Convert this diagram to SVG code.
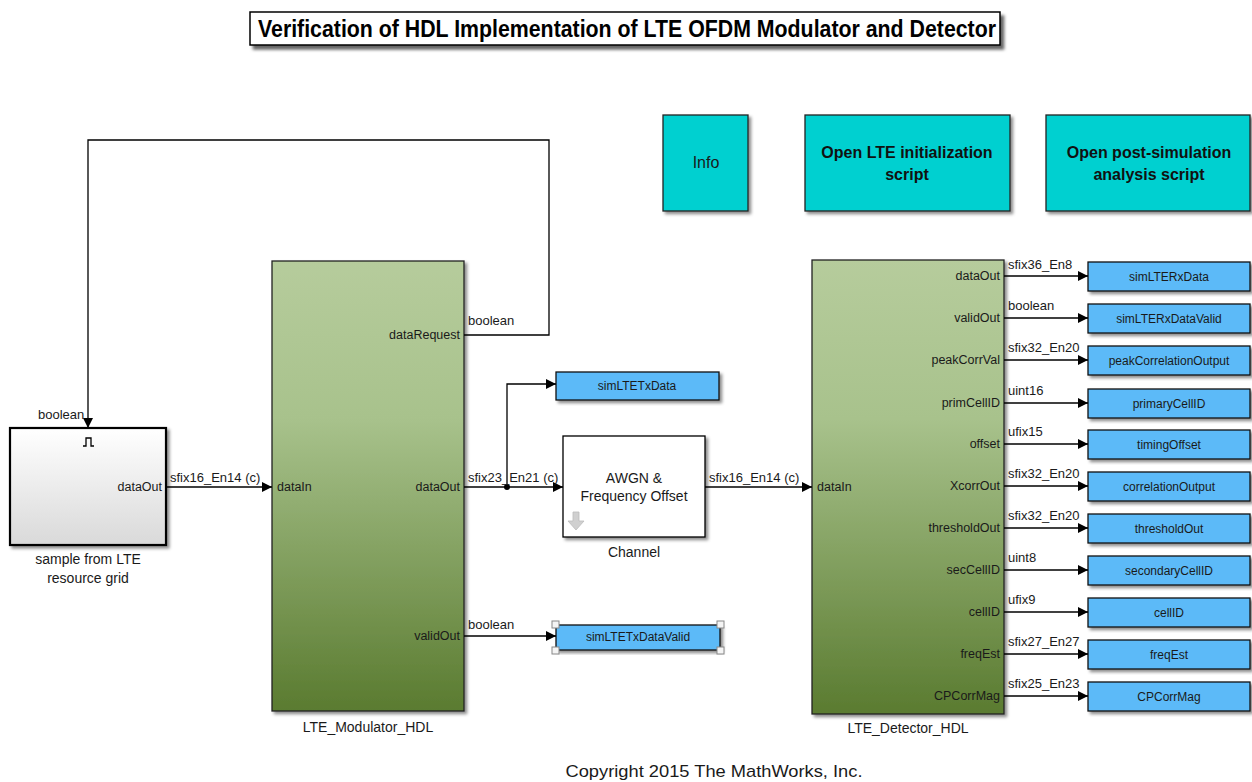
<svg xmlns="http://www.w3.org/2000/svg" width="1252" height="782" viewBox="0 0 1252 782">
<style>
text{font-family:"Liberation Sans",Arial,sans-serif;fill:#1a1a1a}
.port{font-size:12.5px}
.type{font-size:13px}
.lbl{font-size:14px;text-anchor:middle}
.out{font-size:12px;text-anchor:middle}
.cy{font-size:16px;text-anchor:middle;font-weight:bold;fill:#111}
.ln{fill:none;stroke:#000;stroke-width:1.3}
.blue{fill:#5bbaf8;stroke:#111;stroke-width:1.3;filter:url(#sh)}
.cyan{fill:#00d0d0;stroke:#222;stroke-width:1.3;filter:url(#sh)}
.h{fill:#f4f4f4;stroke:#888;stroke-width:1}
</style>
<defs>
<filter id="sh" x="-10%" y="-10%" width="130%" height="130%">
<feDropShadow dx="2.5" dy="2.5" stdDeviation="1.5" flood-color="#000" flood-opacity="0.45"/>
</filter>
<filter id="sh2" x="-10%" y="-20%" width="130%" height="160%">
<feDropShadow dx="3.5" dy="4" stdDeviation="1.8" flood-color="#000" flood-opacity="0.6"/>
</filter>
<linearGradient id="g" x1="0" y1="0" x2="0" y2="1">
<stop offset="0" stop-color="#b6cc9c"/>
<stop offset="0.35" stop-color="#a8c28c"/>
<stop offset="1" stop-color="#5a7b30"/>
</linearGradient>
<linearGradient id="w" x1="0" y1="0" x2="0" y2="1">
<stop offset="0" stop-color="#ffffff"/>
<stop offset="1" stop-color="#d9d9d9"/>
</linearGradient>
<marker id="a" viewBox="0 0 10 10" refX="10" refY="5" markerWidth="10" markerHeight="10" markerUnits="userSpaceOnUse" orient="auto">
<path d="M0,0 L10,5 L0,10 z" fill="#000"/>
</marker>
</defs>
<rect width="1252" height="782" fill="#fff"/>

<g id="title">
<rect x="250" y="12" width="750" height="33" fill="#fff" stroke="#000" stroke-width="1.5" filter="url(#sh2)"/>
<text x="627" y="37" font-size="23" font-weight="bold" text-anchor="middle" textLength="738" lengthAdjust="spacingAndGlyphs" style="fill:#000">Verification of HDL Implementation of LTE OFDM Modulator and Detector</text>
</g>

<g id="info">
<rect class="cyan" x="663" y="115" width="85" height="96"/>
<text x="706" y="168" font-size="16" text-anchor="middle">Info</text>
</g>
<g id="initScript">
<rect class="cyan" x="805" y="115" width="205" height="96"/>
<text class="cy" x="907" y="158">Open LTE initialization</text>
<text class="cy" x="907" y="180">script</text>
</g>
<g id="postScript">
<rect class="cyan" x="1046" y="115" width="204" height="96"/>
<text class="cy" x="1149" y="158">Open post-simulation</text>
<text class="cy" x="1149" y="180">analysis script</text>
</g>

<g id="source">
<rect x="10" y="428" width="156" height="117" fill="url(#w)" stroke="#000" stroke-width="2.2" filter="url(#sh)"/>
<path d="M83,446 h3 v-8 h5 v8 h3" fill="none" stroke="#000" stroke-width="1.3"/>
<text class="port" x="162" y="491" text-anchor="end">dataOut</text>
<text class="lbl" x="88" y="564">sample from LTE</text>
<text class="lbl" x="88" y="583">resource grid</text>
</g>

<g id="modulator">
<rect x="272" y="261" width="192" height="450" fill="url(#g)" stroke="#222" stroke-width="1.3" filter="url(#sh)"/>
<text class="port" x="277" y="491">dataIn</text>
<text class="port" x="460" y="339" text-anchor="end">dataRequest</text>
<text class="port" x="460" y="491" text-anchor="end">dataOut</text>
<text class="port" x="460" y="640" text-anchor="end">validOut</text>
<text class="lbl" x="368" y="732">LTE_Modulator_HDL</text>
</g>

<g id="simLTETxData">
<rect class="blue" x="556" y="372" width="163" height="28"/>
<text class="out" x="637" y="390">simLTETxData</text>
</g>

<g id="channel">
<rect x="563" y="436" width="142" height="101" fill="#fff" stroke="#000" stroke-width="1.3" filter="url(#sh)"/>
<text x="634" y="483" font-size="14" text-anchor="middle">AWGN &amp;</text>
<text x="634" y="501" font-size="14" text-anchor="middle">Frequency Offset</text>
<path d="M573,512 h6 v9 h5 l-8,9 l-8,-9 h5 z" fill="#d0d0d0" stroke="#bbb" stroke-width="0.8"/>
<text class="lbl" x="634" y="557">Channel</text>
</g>

<g id="simLTETxDataValid">
<rect class="blue" x="556" y="625" width="164" height="25"/>
<text class="out" x="638" y="641">simLTETxDataValid</text>
<rect class="h" x="552" y="621" width="7" height="7"/>
<rect class="h" x="717" y="621" width="7" height="7"/>
<rect class="h" x="552" y="647" width="7" height="7"/>
<rect class="h" x="717" y="647" width="7" height="7"/>
</g>

<g id="detector">
<rect x="812" y="260" width="192" height="454" fill="url(#g)" stroke="#222" stroke-width="1.3" filter="url(#sh)"/>
<text class="port" x="817" y="491">dataIn</text>
<text class="port" x="1000" y="280" text-anchor="end">dataOut</text>
<text class="port" x="1000" y="322" text-anchor="end">validOut</text>
<text class="port" x="1000" y="364" text-anchor="end">peakCorrVal</text>
<text class="port" x="1000" y="407" text-anchor="end">primCellID</text>
<text class="port" x="1000" y="448" text-anchor="end">offset</text>
<text class="port" x="1000" y="490" text-anchor="end">XcorrOut</text>
<text class="port" x="1000" y="532" text-anchor="end">thresholdOut</text>
<text class="port" x="1000" y="574" text-anchor="end">secCellID</text>
<text class="port" x="1000" y="616" text-anchor="end">cellID</text>
<text class="port" x="1000" y="658" text-anchor="end">freqEst</text>
<text class="port" x="1000" y="700" text-anchor="end">CPCorrMag</text>
<text class="lbl" x="908" y="733">LTE_Detector_HDL</text>
</g>

<g id="outputs">
<g id="simLTERxData"><rect class="blue" x="1088" y="262" width="162" height="29"/><text class="out" x="1169" y="281">simLTERxData</text></g>
<g id="simLTERxDataValid"><rect class="blue" x="1088" y="304" width="162" height="29"/><text class="out" x="1169" y="323">simLTERxDataValid</text></g>
<g id="peakCorrelationOutput"><rect class="blue" x="1088" y="346" width="162" height="29"/><text class="out" x="1169" y="365">peakCorrelationOutput</text></g>
<g id="primaryCellID"><rect class="blue" x="1088" y="389" width="162" height="29"/><text class="out" x="1169" y="408">primaryCellID</text></g>
<g id="timingOffset"><rect class="blue" x="1088" y="430" width="162" height="29"/><text class="out" x="1169" y="449">timingOffset</text></g>
<g id="correlationOutput"><rect class="blue" x="1088" y="472" width="162" height="29"/><text class="out" x="1169" y="491">correlationOutput</text></g>
<g id="thresholdOutBlk"><rect class="blue" x="1088" y="514" width="162" height="29"/><text class="out" x="1169" y="533">thresholdOut</text></g>
<g id="secondaryCellID"><rect class="blue" x="1088" y="556" width="162" height="29"/><text class="out" x="1169" y="575">secondaryCellID</text></g>
<g id="cellIDBlk"><rect class="blue" x="1088" y="598" width="162" height="29"/><text class="out" x="1169" y="617">cellID</text></g>
<g id="freqEstBlk"><rect class="blue" x="1088" y="640" width="162" height="29"/><text class="out" x="1169" y="659">freqEst</text></g>
<g id="CPCorrMagBlk"><rect class="blue" x="1088" y="682" width="162" height="29"/><text class="out" x="1169" y="701">CPCorrMag</text></g>
</g>

<g id="connectors">
<path class="ln" d="M464,335 H549 V140 H88 V428" marker-end="url(#a)"/>
<text class="type" x="468" y="325">boolean</text>
<text class="type" x="38" y="419">boolean</text>
<path class="ln" d="M166,487 H272" marker-end="url(#a)"/>
<text class="type" x="170" y="482">sfix16_En14 (c)</text>
<path class="ln" d="M464,487 H563" marker-end="url(#a)"/>
<path class="ln" d="M507,487 V384 H556" marker-end="url(#a)"/>
<circle cx="507" cy="487" r="3" fill="#000"/>
<text class="type" x="468" y="482">sfix23_En21 (c)</text>
<path class="ln" d="M705,487 H812" marker-end="url(#a)"/>
<text class="type" x="709" y="482">sfix16_En14 (c)</text>
<path class="ln" d="M464,636 H556" marker-end="url(#a)"/>
<text class="type" x="468" y="629">boolean</text>
<path class="ln" d="M1004,276 H1088" marker-end="url(#a)"/><text class="type" x="1008" y="269">sfix36_En8</text>
<path class="ln" d="M1004,318 H1088" marker-end="url(#a)"/><text class="type" x="1008" y="310">boolean</text>
<path class="ln" d="M1004,360 H1088" marker-end="url(#a)"/><text class="type" x="1008" y="352">sfix32_En20</text>
<path class="ln" d="M1004,403 H1088" marker-end="url(#a)"/><text class="type" x="1008" y="395">uint16</text>
<path class="ln" d="M1004,444 H1088" marker-end="url(#a)"/><text class="type" x="1008" y="436">ufix15</text>
<path class="ln" d="M1004,486 H1088" marker-end="url(#a)"/><text class="type" x="1008" y="478">sfix32_En20</text>
<path class="ln" d="M1004,528 H1088" marker-end="url(#a)"/><text class="type" x="1008" y="520">sfix32_En20</text>
<path class="ln" d="M1004,570 H1088" marker-end="url(#a)"/><text class="type" x="1008" y="562">uint8</text>
<path class="ln" d="M1004,612 H1088" marker-end="url(#a)"/><text class="type" x="1008" y="604">ufix9</text>
<path class="ln" d="M1004,654 H1088" marker-end="url(#a)"/><text class="type" x="1008" y="646">sfix27_En27</text>
<path class="ln" d="M1004,696 H1088" marker-end="url(#a)"/><text class="type" x="1008" y="688">sfix25_En23</text>
</g>

<text x="714" y="777" font-size="17" text-anchor="middle" textLength="297" lengthAdjust="spacingAndGlyphs">Copyright 2015 The MathWorks, Inc.</text>
</svg>
